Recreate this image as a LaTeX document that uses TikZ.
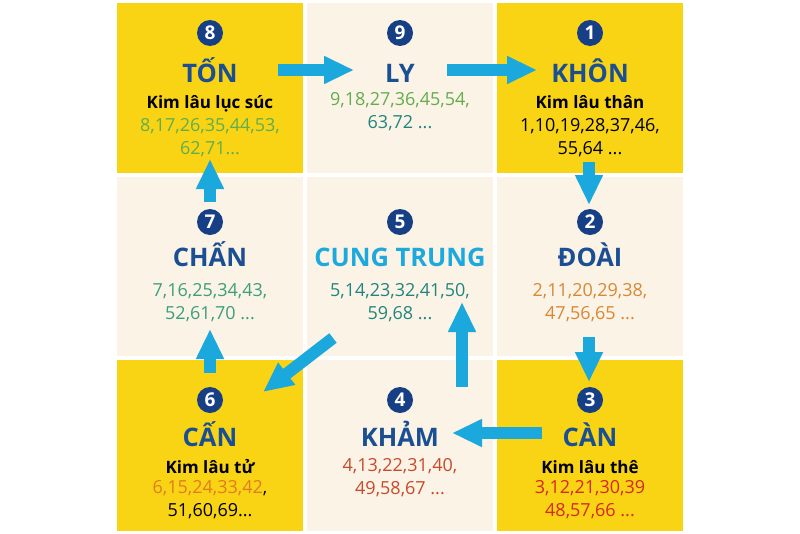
\documentclass[tikz,border=0pt]{standalone}
\usepackage{fontspec}
\setmainfont{Open Sans}
\usetikzlibrary{arrows.meta,positioning,calc}
\definecolor{cungyellow}{HTML}{F8D414}
\definecolor{cungcream}{HTML}{FBF3E6}
\definecolor{titleblue}{HTML}{1B4F93}
\definecolor{circleblue}{HTML}{163F86}
\definecolor{midblue}{HTML}{1DA9DE}
\definecolor{flowblue}{HTML}{1BA8DC}
\definecolor{numgreen}{HTML}{63AD4E}
\definecolor{numteal}{HTML}{21857F}
\definecolor{numsea}{HTML}{3C9F7C}
\definecolor{numorange}{HTML}{D98832}
\definecolor{numamber}{HTML}{E07D1F}
\definecolor{numbrick}{HTML}{C84A2C}
\definecolor{numred}{HTML}{D6281C}

\begin{document}
\begin{tikzpicture}[x=1pt,y=-1pt,
    cell/.style={minimum width=186pt,inner sep=0pt,outer sep=0pt},
    num/.style={circle,fill=circleblue,text=white,minimum size=26pt,inner sep=0pt,font=\fontsize{19}{19}\bfseries},
    title/.style={font=\fontsize{25.5}{25.5}\bfseries,text=titleblue,text height=18pt,text depth=0pt,inner sep=0pt},
    sub/.style={font=\fontsize{17}{17}\bfseries,text height=12.5pt,text depth=0pt,inner sep=0pt},
    nums/.style={align=center,font=\fontsize{18}{23}\selectfont,inner sep=0pt,anchor=base},
    flow/.style={-{Triangle[length=30pt,width=26pt]},line width=12pt,draw=flowblue}]

    \useasboundingbox (0,0) rectangle (800,533);
    \fill[white] (0,0) rectangle (800,533);

    % the nine cells
    \node[cell,minimum height=170pt,fill=cungyellow](c8) at (210,88) {};
    \node[cell,minimum height=170pt,fill=cungcream](c9) at (400,88) {};
    \node[cell,minimum height=170pt,fill=cungyellow](c1) at (590,88) {};
    \node[cell,minimum height=179pt,fill=cungcream](c7) at (210,266.5) {};
    \node[cell,minimum height=179pt,fill=cungcream](c5) at (400,266.5) {};
    \node[cell,minimum height=179pt,fill=cungcream](c2) at (590,266.5) {};
    \node[cell,minimum height=171pt,fill=cungyellow](c6) at (210,445.5) {};
    \node[cell,minimum height=171pt,fill=cungcream](c4) at (400,445.5) {};
    \node[cell,minimum height=171pt,fill=cungyellow](c3) at (590,445.5) {};

    % top row
    \node[num](n8) at (210,33) {8};
    \node[title](t8) at (210,73.5) {TỐN};
    \node[sub](s8) at (210,102.5) {Kim lâu lục súc};
    \node[nums,text=numgreen](l8) at (210,154.5) {8,17,26,35,44,53,\\62,71...};

    \node[num](n9) at (400,33) {9};
    \node[title](t9) at (400,73.5) {LY};
    \node[nums](l9) at (400,128.5) {\textcolor{numgreen}{9,18,27,36,45,54,}\\\textcolor{numteal}{63,72 ...}};

    \node[num](n1) at (590,33) {1};
    \node[title](t1) at (590,73.5) {KHÔN};
    \node[sub](s1) at (590,102.5) {Kim lâu thân};
    \node[nums](l1) at (590,154.5) {1,10,19,28,37,46,\\55,64 ...};

    % middle row
    \node[num](n7) at (210,222) {7};
    \node[title](t7) at (210,257.5) {CHẤN};
    \node[nums,text=numsea](l7) at (210,319.5) {7,16,25,34,43,\\52,61,70 ...};

    \node[num](n5) at (400,222) {5};
    \node[title,text=midblue](t5) at (400,257.5) {CUNG TRUNG};
    \node[nums,text=numteal](l5) at (400,319.5) {5,14,23,32,41,50,\\59,68 ...};

    \node[num](n2) at (590,222) {2};
    \node[title](t2) at (590,257.5) {ĐOÀI};
    \node[nums,text=numorange](l2) at (590,319.5) {2,11,20,29,38,\\47,56,65 ...};

    % bottom row
    \node[num](n6) at (210,400) {6};
    \node[title](t6) at (210,437) {CẤN};
    \node[sub](s6) at (210,467) {Kim lâu tử};
    \node[nums](l6) at (210,516.5) {\textcolor{numamber}{6,15,24,33,42},\\51,60,69...};

    \node[num](n4) at (400,400) {4};
    \node[title](t4) at (400,437) {KHẢM};
    \node[nums,text=numbrick](l4) at (400,494.5) {4,13,22,31,40,\\49,58,67 ...};

    \node[num](n3) at (590,400) {3};
    \node[title](t3) at (590,437) {CÀN};
    \node[sub](s3) at (590,467) {Kim lâu thê};
    \node[nums,text=numred](l3) at (590,516.5) {3,12,21,30,39\\48,57,66 ...};

    % order of the palaces
    \draw[flow] ([shift={(-25,-18)}]c8.east) -- ([shift={(47,-18)}]c9.west);
    \draw[flow] ([shift={(-46,-18)}]c9.east) -- ([shift={(40,-18)}]c1.west);
    \draw[flow] ([shift={(-1,-11)}]c1.south) -- ([shift={(-1,28)}]c2.north);
    \draw[flow] ([shift={(-1,-19)}]c2.south) -- ([shift={(-1,22)}]c3.north);
    \draw[flow] ([shift={(45,-12.5)}]c3.west) -- ([shift={(-41,-12.5)}]c4.east);
    \draw[flow] ([shift={(62,27)}]c4.north) -- ([shift={(62,-54)}]c5.south);
    \draw[flow] ([shift={(26,-18)}]c5.south west) -- ([shift={(-40,32)}]c6.north east);
    \draw[flow] ([shift={(0,13)}]c6.north) -- ([shift={(0,-27)}]c7.south);
    \draw[flow] ([shift={(0,25)}]c7.north) -- ([shift={(0,-14)}]c8.south);

\end{tikzpicture}
\end{document}
